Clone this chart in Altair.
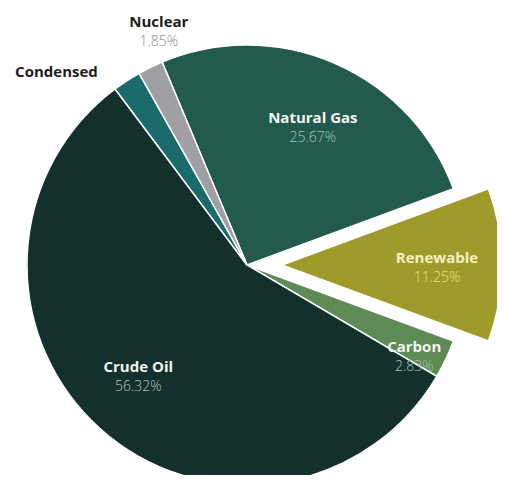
import altair as alt
import pandas as pd
import math

# ---- data ----
categories = ["Natural Gas", "Renewable", "Carbon", "Crude Oil", "Condensed", "Nuclear"]
shares = [25.67, 11.25, 2.83, 56.32, 2.08, 1.85]
pct_labels = ["25.67%", "11.25%", "2.83%", "56.32%", "", "1.85%"]
slice_order = [1, 2, 3, 4, 5, 6]

# ---- style / layout ----
slice_colors = ["#235a4e", "#9e9b2a", "#5d8a55", "#14302c", "#1a6b6b", "#a0a0a4"]
name_colors = ["#f2f4ee", "#f6f0c4", "#f2f4ee", "#f2f4ee", "#1c1c1c", "#1c1c1c"]
pct_colors = ["#a9c6be", "#e9e08c", "#a9c6be", "#a9c6be", "#888888", "#8a8a8a"]
label_radius = {"Natural Gas": 152, "Renewable": 155, "Carbon": 191,
                "Crude Oil": 156, "Condensed": 264, "Nuclear": 249}
label_shift = {"Natural Gas": 0.6, "Renewable": 0.3, "Carbon": 1.0,
               "Crude Oil": 0.67, "Condensed": -3.64, "Nuclear": 1.47}
exploded = "Renewable"
explode_px = 35
R = 220
CX, CY = 239, 257
start_deg = 337.3

df = pd.DataFrame({"cat": categories, "value": shares, "pct": pct_labels,
                   "order": slice_order})
total = sum(shares)

a0 = math.radians(start_deg)
theta_scale = alt.Scale(domain=[0, total], range=[a0, a0 + 2 * math.pi])
name_scale = alt.Scale(domain=categories, range=name_colors)
pct_scale = alt.Scale(domain=categories, range=pct_colors)
fill_scale = alt.Scale(domain=categories, range=slice_colors)

r_expr = " : ".join(f"datum.cat === '{k}' ? {v}" for k, v in label_radius.items()) + " : 150"
s_expr = " : ".join(f"datum.cat === '{k}' ? {v}" for k, v in label_shift.items()) + " : 0"

base = alt.Chart(df).transform_window(
    cum="sum(value)", sort=[alt.SortField("order")], frame=[None, 0]
).transform_calculate(
    start="datum.cum - datum.value",
    end="datum.cum",
    mid="datum.cum - datum.value / 2 + (" + s_expr + ")",
    lr=r_expr,
)


def layers(filt, off):
    b = base.transform_filter(filt)
    arc = b.mark_arc(radius=R, stroke="white", strokeWidth=1.5, xOffset=off).encode(
        theta=alt.Theta("start:Q", scale=theta_scale),
        theta2="end:Q",
        fill=alt.Fill("cat:N", scale=fill_scale, legend=None),
        x=alt.value(CX), y=alt.value(CY),
    )
    name = b.mark_text(font="Open Sans", fontWeight="bold", fontSize=15, dy=-10,
                       xOffset=off, align="center", baseline="middle").encode(
        theta=alt.Theta("mid:Q", scale=theta_scale),
        radius=alt.Radius("lr:Q", scale=None),
        text="cat:N",
        fill=alt.Fill("cat:N", scale=name_scale, legend=None),
        x=alt.value(CX), y=alt.value(CY),
    )
    pct = b.mark_text(font="Open Sans", fontWeight=300, fontSize=14, dy=10,
                      xOffset=off, align="center", baseline="middle").encode(
        theta=alt.Theta("mid:Q", scale=theta_scale),
        radius=alt.Radius("lr:Q", scale=None),
        text="pct:N",
        fill=alt.Fill("cat:N", scale=pct_scale, legend=None),
        x=alt.value(CX), y=alt.value(CY),
    )
    return [arc, name, pct]


main = layers(f"datum.cat !== '{exploded}'", 0)
expl = layers(f"datum.cat === '{exploded}'", explode_px)

chart = alt.layer(main[0], expl[0], main[1], main[2], expl[1], expl[2]).resolve_scale(
    fill="independent"
).properties(
    width=489, height=467, padding=0,
    autosize=alt.AutoSizeParams(type="none"),
).configure_view(stroke=None)

chart.save("out.html", embed_options={"renderer": "svg", "actions": False})
